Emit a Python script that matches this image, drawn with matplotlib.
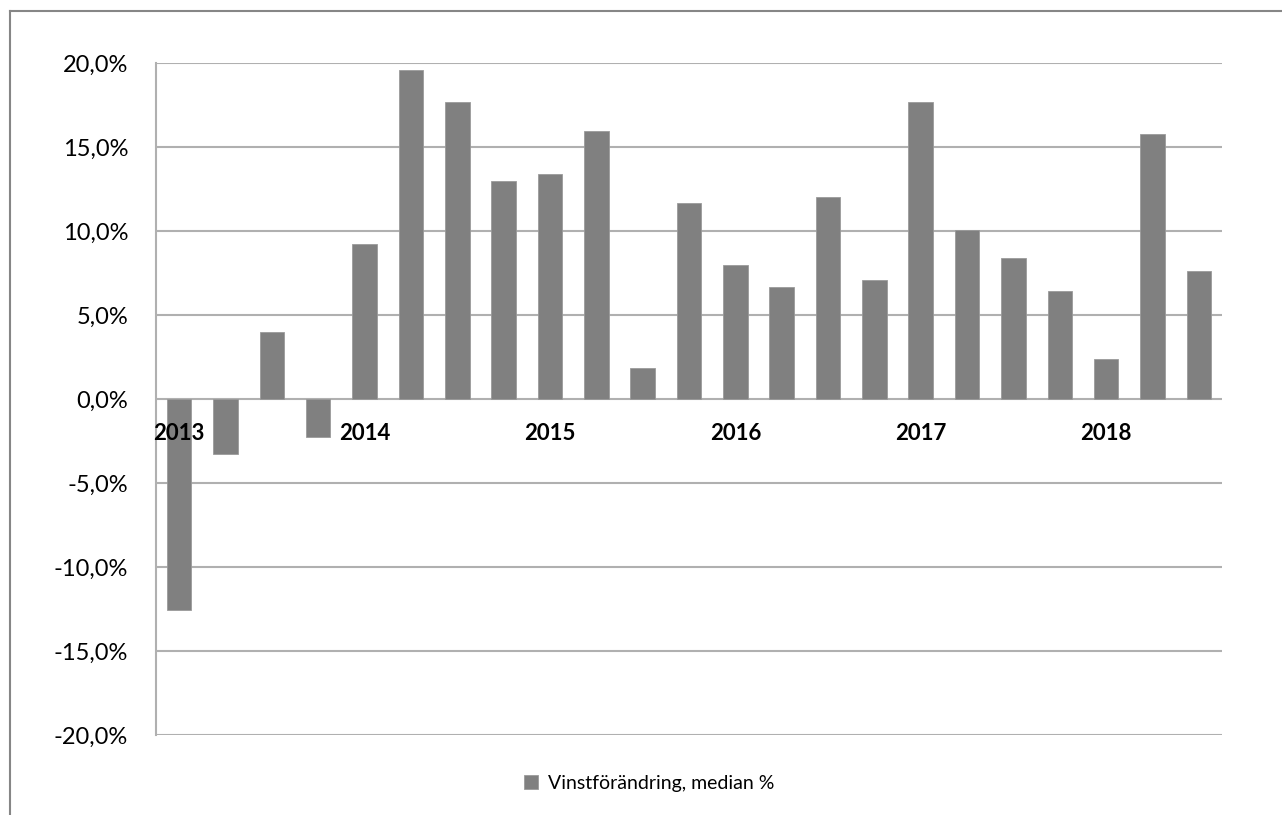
import matplotlib
matplotlib.use("Agg")
import matplotlib.pyplot as plt
from matplotlib.lines import Line2D
from matplotlib.ticker import FuncFormatter

plt.rcParams['font.family'] = ['Lato', 'DejaVu Sans']

# Data: quarterly profit change, median %, 2013Q1 - 2018Q3
values = [-12.55, -3.27, 3.98, -2.29,
          9.24, 19.6, 17.7, 13.0,
          13.4, 15.96, 1.83, 11.65,
          8.0, 6.68, 12.05, 7.09,
          17.7, 10.05, 8.42, 6.4,
          2.37, 15.8, 7.63]
year_labels = ["2013", "2014", "2015", "2016", "2017", "2018"]
year_positions = [0, 4, 8, 12, 16, 20]
series_name = "Vinstförändring, median %"
yticks = [-20, -15, -10, -5, 0, 5, 10, 15, 20]

W, H = 1282, 815
fig = plt.figure(figsize=(W / 100, H / 100), dpi=100)
ax = fig.add_axes([156 / W, 1 - 735 / H, (1222 - 156) / W, (735 - 63) / H])

grid_c = "#b0b0b0"
bar_c = "#808080"

x = list(range(len(values)))
ax.bar(x, values, width=0.53, color=bar_c, edgecolor="#9a9a9a", linewidth=0.6,
       label=series_name, zorder=3)

ax.set_xlim(-0.5, len(values) - 0.5)
ax.set_ylim(-20, 20)
ax.set_yticks(yticks)
ax.yaxis.set_major_formatter(FuncFormatter(lambda v, p: f"{v:.1f}%".replace(".", ",")))
ax.tick_params(axis="y", length=0, pad=20, labelsize=17, labelcolor="#000000")
ax.set_xticks([])
ax.grid(axis="y", color=grid_c, linewidth=1.5, zorder=0)
for s in ["top", "right", "bottom"]:
    ax.spines[s].set_visible(False)
ax.spines["left"].set_color(grid_c)
ax.spines["left"].set_linewidth(1.5)

for pos, lab in zip(year_positions, year_labels):
    ax.annotate(lab, xy=(pos, 0), xytext=(0, -17), textcoords="offset points",
                ha="center", va="top", fontsize=16, fontweight="bold", color="#000000",
                zorder=5)

fig.legend(loc="center", bbox_to_anchor=(649 / W, 1 - 783 / H), frameon=False,
           fontsize=14, handlelength=0.75, handleheight=0.75, handletextpad=0.5)

# outer chart frame
fig.add_artist(Line2D([10 / W, 10 / W], [0, 1 - 11 / H], transform=fig.transFigure,
                      color="#868686", linewidth=1.5))
fig.add_artist(Line2D([10 / W, 1], [1 - 11 / H, 1 - 11 / H], transform=fig.transFigure,
                      color="#868686", linewidth=1.5))

fig.savefig("out.png", dpi=100)
